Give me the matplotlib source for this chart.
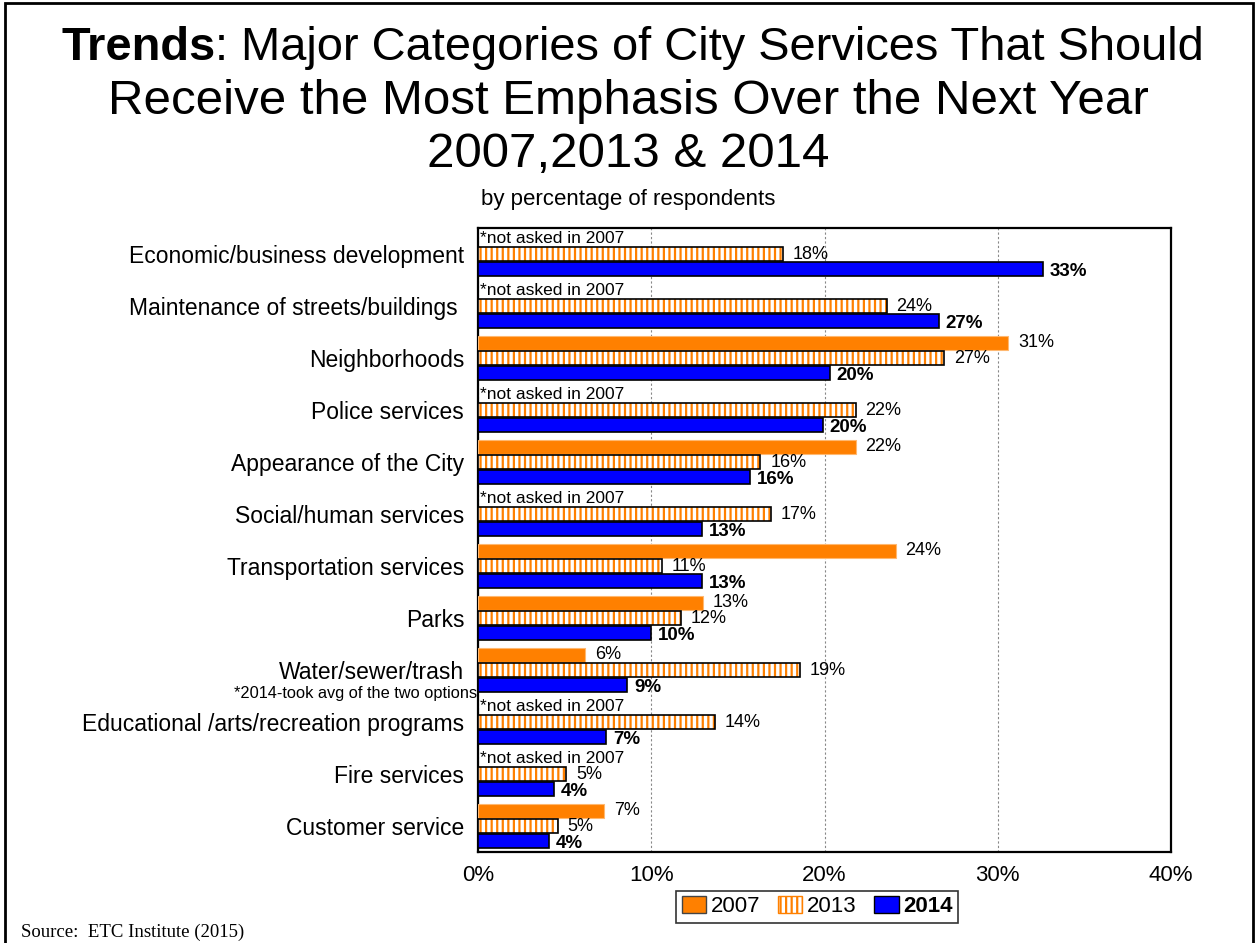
import numpy as np
import matplotlib.pyplot as plt
from matplotlib.patches import Patch, Rectangle

plt.rcParams['font.family'] = ['Liberation Sans', 'DejaVu Sans']
plt.rcParams['hatch.linewidth'] = 1.6

categories = [
    'Economic/business development',
    'Maintenance of streets/buildings ',
    'Neighborhoods',
    'Police services',
    'Appearance of the City',
    'Social/human services',
    'Transportation services',
    'Parks',
    'Water/sewer/trash',
    'Educational /arts/recreation programs',
    'Fire services',
    'Customer service',
]
# None = not asked in 2007
vals_2007 = [None, None, 30.6, None, 21.8, None, 24.1, 13.0, 6.2, None, None, 7.3]
vals_2013 = [17.6, 23.6, 26.9, 21.8, 16.3, 16.9, 10.6, 11.7, 18.6, 13.7, 5.1, 4.6]
vals_2014 = [32.6, 26.6, 20.3, 19.9, 15.7, 12.9, 12.9, 10.0, 8.6, 7.4, 4.4, 4.1]
xticks = [0, 10, 20, 30, 40]

ORANGE = '#FF8000'
BLUE = '#0000FF'

fig = plt.figure(figsize=(12.56, 9.43), dpi=100)
ax = fig.add_axes([0.3806, 0.0965, 0.5517, 0.6617])

y = np.arange(len(categories))
off = 0.29
h = 0.27

for i, v in enumerate(vals_2007):
    if v is None:
        ax.text(0.1, i - off, '*not asked in 2007', fontsize=12.5, va='center', ha='left')
    else:
        ax.barh(i - off, v, height=h, color=ORANGE, edgecolor='#FFB870', linewidth=0.8, zorder=3)
        ax.annotate(f'{v:.0f}%', (v, i - off), xytext=(7, 0), textcoords='offset points',
                    va='center', ha='left', fontsize=13)

# 2013: orange stripes on white, black outline on top
ax.barh(y, vals_2013, height=h, color='white', edgecolor=ORANGE, hatch='|||', linewidth=0, zorder=3)
ax.barh(y, vals_2013, height=h, color='none', edgecolor='black', linewidth=1.2, zorder=4)
for i, v in enumerate(vals_2013):
    ax.annotate(f'{v:.0f}%', (v, i), xytext=(7, 0), textcoords='offset points',
                va='center', ha='left', fontsize=13)

ax.barh(y + off, vals_2014, height=h, color=BLUE, edgecolor='black', linewidth=1.2, zorder=3)
for i, v in enumerate(vals_2014):
    ax.annotate(f'{v:.0f}%', (v, i + off), xytext=(5, -2), textcoords='offset points',
                va='center', ha='left', fontsize=13.5, fontweight='bold')

ax.set_xlim(0, 40)
ax.set_ylim(len(categories) - 0.5, -0.5)
ax.set_xticks(xticks)
ax.set_xticklabels([f'{t}%' for t in xticks], fontsize=16)
ax.set_yticks(y)
ax.set_yticklabels(categories, fontsize=16.5)
ax.tick_params(axis='both', length=0)
ax.tick_params(axis='y', pad=10)
ax.tick_params(axis='x', pad=9)
ax.xaxis.grid(True, color='#888888', linestyle=(0, (2, 2)), linewidth=0.8, zorder=0)
ax.set_axisbelow(True)
for s in ax.spines.values():
    s.set_linewidth(1.6)

ax.text(-0.002, 8.45, '*2014-took avg of the two options', transform=ax.get_yaxis_transform(),
        fontsize=11.8, ha='right', va='center')

handles = [
    Patch(facecolor=ORANGE, edgecolor='#444444', linewidth=1),
    Patch(facecolor='white', edgecolor=ORANGE, hatch='|||', linewidth=1),
    Patch(facecolor=BLUE, edgecolor='black', linewidth=1),
]
leg = fig.legend(handles, ['2007', '2013', '2014'], loc='center', bbox_to_anchor=(0.6505, 0.0385),
                 ncol=3, fontsize=16, frameon=True, fancybox=False, edgecolor='black',
                 handlelength=1.1, handleheight=0.75, handletextpad=0.2, columnspacing=0.8,
                 borderpad=0.25)
leg.get_frame().set_linewidth(1.2)
leg.get_texts()[2].set_fontweight('bold')

# title: first line has a bold lead word, so it is laid out in two pieces
r = fig.canvas.get_renderer()
probe = fig.text(0.5, 0.949, 'Trends: Major Categories of City Services That Should',
                 fontsize=33.8, ha='center', va='center', alpha=0)
px0 = probe.get_window_extent(r).x0
probe.remove()
lead = fig.text(px0 / fig.bbox.width, 0.949, 'Trends', fontsize=33.8, fontweight='bold',
                ha='left', va='center')
lx1 = lead.get_window_extent(r).x1
fig.text(lx1 / fig.bbox.width, 0.949, ': Major Categories of City Services That Should',
         fontsize=33.8, ha='left', va='center')
fig.text(0.5, 0.892, 'Receive the Most Emphasis Over the Next Year', fontsize=35.5, ha='center', va='center')
fig.text(0.5, 0.836, '2007,2013 & 2014', fontsize=35.5, ha='center', va='center')
fig.text(0.5, 0.788, 'by percentage of respondents', fontsize=16, ha='center', va='center')

fig.text(0.017, 0.011, 'Source:  ETC Institute (2015)', fontsize=13.5, family='Liberation Serif',
         ha='left', va='center')

fig.patches.append(Rectangle((0.004, -0.01), 0.994, 1.007, transform=fig.transFigure,
                             fill=False, edgecolor='black', linewidth=2))

fig.savefig('out.png', dpi=100)
